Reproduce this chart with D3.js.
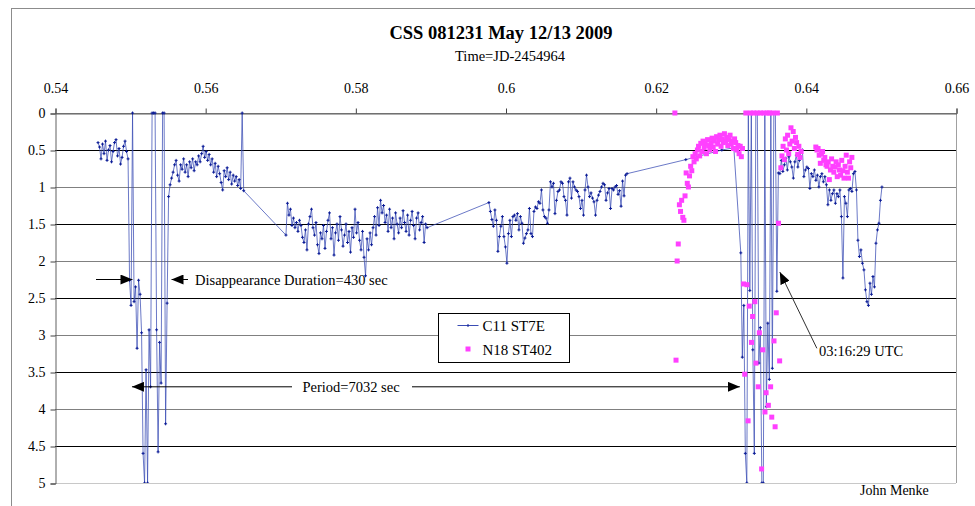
<!DOCTYPE html>
<html>
<head>
<meta charset="utf-8">
<script src="https://cdn.jsdelivr.net/npm/d3@7"></script>
<style>
body { margin: 0; background: #fff; }
text { font-family: "Liberation Serif", "Times New Roman", serif; fill: #000; }
</style>
</head>
<body>
<script>
//Width and height
var w = 975;
var h = 506;

//Axis ticks
var xTicks = [0.54, 0.56, 0.58, 0.60, 0.62, 0.64, 0.66];
var xTickLabels = ["0.54", "0.56", "0.58", "0.6", "0.62", "0.64", "0.66"];
var yTicks = [0, 0.5, 1, 1.5, 2, 2.5, 3, 3.5, 4, 4.5, 5];
var yTickLabels = ["0", "0.5", "1", "1.5", "2", "2.5", "3", "3.5", "4", "4.5", "5"];

//C11 ST7E: segment start times (JD-2454964), magnitudes at a fixed cadence
var c11Cadence = 0.0002;
var c11Starts = [0.54573, 0.57076, 0.59779, 0.63134];
var c11Seg1 = [0.40, 0.46, 0.62, 0.42, 0.55, 0.38, 0.64, 0.50, 0.44, 0.66, 0.52, 0.40, 0.36, 0.58, 0.48, 0.69, 0.60, 0.45, 0.38, 0.52, 0.62,
               2.26, 2.60, 0.00, 2.55, 2.35, 3.18, 2.26, 2.45, 2.97, 4.60, 5.00, 3.47, 5.00, 2.93, 3.70, 0.00, 0.00, 0.00, 2.93, 4.58, 3.10, 3.65, 0.00, 0.00, 4.20, 2.57, 1.13,
               0.97, 0.88, 0.80, 0.70, 0.64, 0.84, 0.92, 0.70, 0.76, 0.62, 0.80, 0.70, 0.86, 0.66, 0.74, 0.62, 0.78, 0.66, 0.70, 0.58, 0.66, 0.55, 0.45, 0.60,
               0.52, 0.64, 0.56, 0.70, 0.62, 0.80, 0.68, 0.86, 0.72, 0.82, 0.94, 1.04, 0.78, 0.86, 0.74, 0.90, 0.80, 0.96, 0.84, 0.92, 0.86, 0.98, 0.90, 1.02,
               0.00, 1.05];
var c11Seg2 = [1.65, 1.22, 1.38, 1.30, 1.52, 1.42, 1.55, 1.48, 1.60, 1.45, 1.52, 1.68, 1.75, 1.58, 1.85, 1.50, 1.40, 1.30, 1.55, 1.65,
               1.48, 1.78, 1.90, 1.62, 1.70, 1.52, 1.83, 1.60, 1.45, 1.35, 1.70, 1.55, 1.92, 1.62, 1.50, 1.72, 1.40, 1.58, 1.80, 1.65,
               1.50, 1.75, 1.60, 1.88, 1.55, 1.68, 1.30, 1.62, 1.48, 1.72, 1.85, 1.60, 1.95, 2.20, 1.70, 1.85, 1.62, 1.78, 1.55, 1.40,
               1.65, 1.28, 1.52, 1.18, 1.35, 1.25, 1.48, 1.38, 1.60, 1.30, 1.55, 1.42, 1.70, 1.35, 1.50, 1.62, 1.42, 1.55, 1.32, 1.48,
               1.60, 1.38, 1.65, 1.45, 1.33, 1.52, 1.70, 1.42, 1.35, 1.58, 1.48, 1.40, 1.75, 1.50, 1.55];
var c11Seg3 = [1.21, 1.33, 1.44, 1.53, 1.31, 1.45, 1.87, 1.67, 1.53, 1.40, 1.67, 1.81, 2.03, 1.63, 1.45, 1.67, 1.40, 1.38, 1.45, 1.36,
               1.58, 1.40, 1.49, 1.76, 1.69, 1.63, 1.58, 1.29, 1.63, 1.67, 1.33, 1.27, 1.29, 1.20, 1.22, 1.04, 1.31, 1.40, 1.42, 1.49,
               1.31, 0.93, 1.00, 0.95, 1.36, 1.18, 1.06, 1.04, 0.93, 0.95, 1.13, 1.18, 1.38, 0.93, 0.88, 1.15, 0.93, 1.00, 1.04, 1.06,
               1.13, 1.29, 1.18, 1.38, 1.04, 0.84, 1.00, 1.13, 1.08, 1.15, 1.20, 1.38, 1.18, 1.11, 1.06, 1.00, 0.95, 0.97, 1.18, 1.08,
               1.02, 1.29, 1.02, 1.04, 1.00, 0.98, 1.10, 1.05, 1.26, 0.92, 1.12, 0.84, 0.82];
var c11Seg4 = [1.89, 3.30, 2.60, 4.60, 5.00, 0.00, 2.40, 0.00, 3.20, 4.60, 0.00, 0.00, 3.38, 2.90, 5.00, 5.00, 0.00, 3.97, 2.84, 3.60, 0.00, 3.45, 0.00, 0.00, 2.41, 0.81,
               0.82, 0.64, 0.79, 0.70, 0.61, 0.77, 0.59, 0.66, 0.73, 0.88, 0.66, 0.57, 0.73, 0.64, 0.52, 0.50, 0.86, 0.77, 0.73, 0.75,
               1.02, 0.82, 0.86, 0.77, 0.91, 0.84, 1.00, 0.86, 0.82, 0.93, 0.86, 0.97, 1.24, 1.04, 1.18, 1.09, 1.04, 1.22, 1.09, 1.13,
               1.04, 1.40, 2.23, 1.13, 1.22, 1.40, 1.04, 1.02, 1.06, 0.82, 0.79, 1.04, 1.72, 1.94, 1.85, 2.03, 2.12, 2.39, 2.55, 2.60,
               2.30, 2.45, 2.21, 2.35, 1.76, 1.58, 1.49, 1.18, 1.00];
//sparse C11 points in the gap before the second eclipse [time, mag]
var c11Gap = [[0.62402, 0.63], [0.62881, 0.50], [0.63041, 0.47]];

//N18 ST402: segment start times, magnitudes at a fixed cadence
var n18Cadence = 0.00015;
var n18Starts = [0.62256, 0.63667, 0.64133];
var n18Seg1 = [0.00, 3.34, 2.00, 1.77, 1.24, 1.33, 1.18, 1.41, 1.45, 1.12, 0.81, 0.95, 1.00, 0.85, 0.72, 0.78, 0.59, 0.66, 0.55, 0.62,
               0.50, 0.45, 0.58, 0.41, 0.52, 0.38, 0.47, 0.42, 0.55, 0.36, 0.44, 0.50, 0.40, 0.34, 0.46, 0.38, 0.52, 0.32, 0.42, 0.36,
               0.30, 0.45, 0.35, 0.40, 0.28, 0.38, 0.33, 0.44, 0.36, 0.30, 0.42, 0.38, 0.48, 0.35, 0.40, 0.50, 0.44, 0.55, 0.45, 0.59, 0.48,
               2.31, 3.53, 0.00, 2.32, 4.16, 2.61, 0.00, 3.10, 2.75, 0.00, 2.55, 3.38, 0.00, 3.70, 2.97, 0.00, 4.81, 3.20, 0.00, 4.04,
               3.78, 0.00, 3.95, 0.00, 3.70, 4.11, 0.00, 3.08, 4.24, 2.70, 0.00, 1.49, 3.35];
var n18Seg2 = [0.74, 0.58, 0.45, 0.63, 0.35, 0.50, 0.30, 0.55, 0.42, 0.20, 0.38, 0.25, 0.48, 0.33, 0.40, 0.56, 0.45, 0.60, 0.52];
var n18Seg3 = [0.46, 0.50, 0.48, 0.57, 0.68, 0.55, 0.52, 0.64, 0.60, 0.70, 0.72, 0.66, 0.90, 0.77, 0.62, 0.72, 0.80, 0.73, 0.66, 0.86,
               0.70, 0.77, 0.84, 0.64, 0.78, 0.88, 0.72, 0.57, 0.80, 0.88, 0.66, 0.74, 0.60];

//Turn a segment into {t, m} points
function expand(start, step, mags) {
    return mags.map((m, i) => { return { t: start + i * step, m: m }; });
}

var c11 = []
    .concat(expand(c11Starts[0], c11Cadence, c11Seg1))
    .concat(expand(c11Starts[1], c11Cadence, c11Seg2))
    .concat(expand(c11Starts[2], c11Cadence, c11Seg3))
    .concat(c11Gap.map((d) => { return { t: d[0], m: d[1] }; }))
    .concat(expand(c11Starts[3], c11Cadence, c11Seg4));
c11.sort((a, b) => a.t - b.t);

var n18 = []
    .concat(expand(n18Starts[0], n18Cadence, n18Seg1))
    .concat(expand(n18Starts[1], n18Cadence, n18Seg2))
    .concat(expand(n18Starts[2], n18Cadence, n18Seg3));

//Scales
var x = d3.scaleLinear().domain([0.54, 0.66]).range([55, 956]);
var y = d3.scaleLinear().domain([0, 5]).range([113, 483]);

//Create SVG element
var svg = d3.select("body")
            .append("svg")
            .attr("width", w)
            .attr("height", h);

//Outer frame
svg.append("rect")
   .attr("x", 11.5).attr("y", 8.5)
   .attr("width", w).attr("height", h)
   .attr("fill", "none")
   .attr("stroke", "#8c8c8c");

//Title
svg.append("text")
   .attr("x", 501).attr("y", 39)
   .attr("text-anchor", "middle")
   .attr("font-size", "18.5px")
   .attr("font-weight", "bold")
   .text("CSS 081231 May 12/13 2009");

svg.append("text")
   .attr("x", 510).attr("y", 61)
   .attr("text-anchor", "middle")
   .attr("font-size", "14.5px")
   .text("Time=JD-2454964");

//Gridlines
svg.append("g")
   .selectAll("line")
   .data(yTicks)
   .enter()
   .append("line")
   .attr("x1", x(0.54)).attr("x2", x(0.66))
   .attr("y1", (d) => y(d) + 0.5).attr("y2", (d) => y(d) + 0.5)
   .attr("stroke", (d, i) => {
       if (d === 5) return "#c8c8c8";
       return i % 2 ? "#000" : "#808080";
   });

//Right edge of plot area
svg.append("line")
   .attr("x1", x(0.66) + 0.5).attr("x2", x(0.66) + 0.5)
   .attr("y1", y(0)).attr("y2", y(5))
   .attr("stroke", "#a0a0a0");

//Axes
var xAxis = d3.axisTop(x)
              .tickValues(xTicks)
              .tickSize(5)
              .tickPadding(16)
              .tickFormat((d, i) => xTickLabels[i]);
var yAxis = d3.axisLeft(y)
              .tickValues(yTicks)
              .tickSize(5)
              .tickPadding(5)
              .tickFormat((d, i) => yTickLabels[i]);

var gx = svg.append("g")
            .attr("transform", "translate(0.5," + (y(0) + 0.5) + ")")
            .call(xAxis);
var gy = svg.append("g")
            .attr("transform", "translate(" + (x(0.54) + 0.5) + ",0.5)")
            .call(yAxis);

[gx, gy].forEach((g) => {
    g.attr("font-family", "Liberation Serif");
    g.select(".domain").attr("stroke", "#606060");
    g.selectAll(".tick line").attr("stroke", "#404040");
    g.selectAll("text")
     .attr("font-family", "Liberation Serif")
     .attr("font-size", "14px")
     .attr("fill", "#000");
});

//Clip to plot area
svg.append("clipPath")
   .attr("id", "plot")
   .append("rect")
   .attr("x", x(0.54)).attr("y", y(0) - 3)
   .attr("width", x(0.66) - x(0.54)).attr("height", y(5) - y(0) + 3);

var plot = svg.append("g").attr("clip-path", "url(#plot)");

//C11 line
var line = d3.line()
             .x((d) => x(d.t))
             .y((d) => y(d.m));

plot.append("path")
    .datum(c11)
    .attr("d", line)
    .attr("fill", "none")
    .attr("stroke", "#3a4cb4")
    .attr("stroke-opacity", 0.75)
    .attr("stroke-width", 1);

//C11 markers (small plus)
plot.append("g")
    .selectAll("path")
    .data(c11)
    .enter()
    .append("path")
    .attr("d", (d) => {
        var cx = x(d.t), cy = y(d.m);
        return "M" + (cx - 1.5) + "," + cy + "H" + (cx + 1.5) + "M" + cx + "," + (cy - 1.5) + "V" + (cy + 1.5);
    })
    .attr("stroke", "#0c1c96")
    .attr("stroke-width", 1);

//N18 squares
plot.append("g")
    .selectAll("rect")
    .data(n18)
    .enter()
    .append("rect")
    .attr("x", (d) => x(d.t) - 2.5)
    .attr("y", (d) => y(d.m) - 2.5)
    .attr("width", 5)
    .attr("height", 5)
    .attr("fill", "#ff40ff");

//Arrow heads
svg.append("defs")
   .append("marker")
   .attr("id", "arrow")
   .attr("viewBox", "0 0 12 10")
   .attr("refX", 12).attr("refY", 5)
   .attr("markerWidth", 12).attr("markerHeight", 10)
   .attr("markerUnits", "userSpaceOnUse")
   .attr("orient", "auto")
   .append("path")
   .attr("d", "M0,0L12,5L0,10Z")
   .attr("fill", "#000");

function arrow(x1, y1, x2, y2, color) {
    svg.append("line")
       .attr("x1", x1).attr("y1", y1)
       .attr("x2", x2).attr("y2", y2)
       .attr("stroke", color || "#000")
       .attr("stroke-width", 1)
       .attr("marker-end", "url(#arrow)");
}

//Disappearance duration
arrow(96, y(2.25), x(0.55032), y(2.25));
arrow(188, y(2.25), x(0.55552), y(2.25));
svg.append("text")
   .attr("x", 195).attr("y", y(2.25) + 5)
   .attr("font-size", "14.5px")
   .text("Disappearance Duration=430 sec");

//Period
arrow(292, y(3.7), x(0.55025), y(3.7));
arrow(412, y(3.7), x(0.63121), y(3.7));
svg.append("text")
   .attr("x", 351).attr("y", y(3.7) + 5)
   .attr("text-anchor", "middle")
   .attr("font-size", "14.5px")
   .text("Period=7032 sec");

//Time of mid-eclipse
arrow(x(0.64147), y(3.18), x(0.63654), y(2.15), "#303030");
svg.append("text")
   .attr("x", 819).attr("y", 356)
   .attr("font-size", "14.5px")
   .text("03:16:29 UTC");

//Legend
var legend = svg.append("g").attr("transform", "translate(438.5,313.5)");
legend.append("rect")
      .attr("width", 131).attr("height", 49)
      .attr("fill", "#fff")
      .attr("stroke", "#000");
legend.append("line")
      .attr("x1", 19).attr("x2", 40)
      .attr("y1", 12).attr("y2", 12)
      .attr("stroke", "#3a4cb4");
legend.append("line")
      .attr("x1", 29.5).attr("x2", 29.5)
      .attr("y1", 10.5).attr("y2", 13.5)
      .attr("stroke", "#0c1c96");
legend.append("text")
      .attr("x", 44).attr("y", 17)
      .attr("font-size", "15px")
      .text("C11 ST7E");
legend.append("rect")
      .attr("x", 27).attr("y", 33)
      .attr("width", 5).attr("height", 5)
      .attr("fill", "#ff40ff");
legend.append("text")
      .attr("x", 44).attr("y", 41)
      .attr("font-size", "15px")
      .text("N18 ST402");

//Author
svg.append("text")
   .attr("x", 860).attr("y", 495)
   .attr("font-size", "14px")
   .text("John Menke");
</script>
</body>
</html>
